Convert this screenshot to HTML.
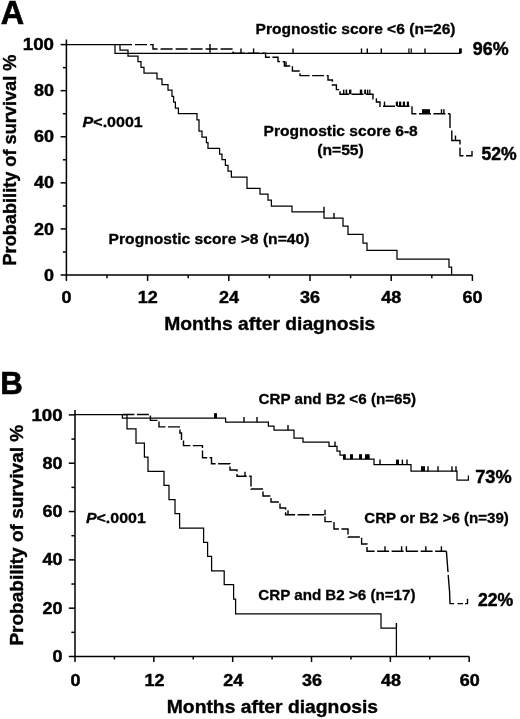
<!DOCTYPE html>
<html><head><meta charset="utf-8"><title>Survival curves</title>
<style>
html,body{margin:0;padding:0;background:#fff;}
body{width:520px;height:719px;overflow:hidden;font-family:"Liberation Sans",sans-serif;}
svg{display:block;position:absolute;left:0;top:0;will-change:transform;opacity:0.999;}
svg text{font-family:"Liberation Sans",sans-serif;font-weight:bold;fill:#000;}
</style></head><body>
<svg width="520" height="719" viewBox="0 0 520 719">
<rect width="520" height="719" fill="#fff"/>
<g stroke="#000" stroke-width="1.50" fill="none">
<path d="M66.40,39.60 L66.40,275.00 L472.40,275.00"/>
<line x1="60.60" y1="275.00" x2="66.40" y2="275.00"/>
<line x1="62.90" y1="251.96" x2="66.40" y2="251.96"/>
<line x1="60.60" y1="228.92" x2="66.40" y2="228.92"/>
<line x1="62.90" y1="205.88" x2="66.40" y2="205.88"/>
<line x1="60.60" y1="182.84" x2="66.40" y2="182.84"/>
<line x1="62.90" y1="159.80" x2="66.40" y2="159.80"/>
<line x1="60.60" y1="136.76" x2="66.40" y2="136.76"/>
<line x1="62.90" y1="113.72" x2="66.40" y2="113.72"/>
<line x1="60.60" y1="90.68" x2="66.40" y2="90.68"/>
<line x1="62.90" y1="67.64" x2="66.40" y2="67.64"/>
<line x1="60.60" y1="44.60" x2="66.40" y2="44.60"/>
<line x1="66.40" y1="275.00" x2="66.40" y2="280.90"/>
<line x1="107.00" y1="275.00" x2="107.00" y2="278.20"/>
<line x1="147.60" y1="275.00" x2="147.60" y2="280.90"/>
<line x1="188.20" y1="275.00" x2="188.20" y2="278.20"/>
<line x1="228.80" y1="275.00" x2="228.80" y2="280.90"/>
<line x1="269.40" y1="275.00" x2="269.40" y2="278.20"/>
<line x1="310.00" y1="275.00" x2="310.00" y2="280.90"/>
<line x1="350.60" y1="275.00" x2="350.60" y2="278.20"/>
<line x1="391.20" y1="275.00" x2="391.20" y2="280.90"/>
<line x1="431.80" y1="275.00" x2="431.80" y2="278.20"/>
<line x1="472.40" y1="275.00" x2="472.40" y2="280.90"/>
</g>
<path d="M66.40,44.60 L120.00,44.60 L120.00,50.20 L128.00,50.20 L128.00,56.00 L138.00,56.00 L138.00,61.50 L141.00,61.50 L141.00,67.30 L144.00,67.30 L144.00,73.20 L157.00,73.20 L157.00,78.80 L162.00,78.80 L162.00,84.50 L168.00,84.50 L168.00,90.00 L172.00,90.00 L172.00,96.30 L173.60,96.30 L173.60,102.00 L175.40,102.00 L175.40,108.00 L178.40,108.00 L178.40,113.70 L197.00,113.70 L197.00,119.80 L199.00,119.80 L199.00,131.00 L202.00,131.00 L202.00,137.00 L206.40,137.00 L206.40,142.50 L208.00,142.50 L208.00,148.40 L219.60,148.40 L219.60,154.00 L222.00,154.00 L222.00,159.70 L225.40,159.70 L225.40,165.30 L228.00,165.30 L228.00,171.00 L231.40,171.00 L231.40,177.00 L247.00,177.00 L247.00,188.40 L260.00,188.40 L260.00,194.00 L268.00,194.00 L268.00,200.00 L271.40,200.00 L271.40,206.00 L292.00,206.00 L292.00,211.80 L324.00,211.80 L324.00,218.00 L343.00,218.00 L343.00,226.00 L348.00,226.00 L348.00,234.40 L363.00,234.40 L363.00,243.00 L367.00,243.00 L367.00,250.40 L397.00,250.40 L397.00,259.00 L449.00,259.00 L449.00,267.00 L451.60,267.00 L451.60,275.00" stroke="#000" stroke-width="1.25" fill="none"/>
<line x1="324.00" y1="206.80" x2="324.00" y2="212.10" stroke="#000" stroke-width="1.40"/>
<line x1="334.00" y1="213.00" x2="334.00" y2="218.30" stroke="#000" stroke-width="1.40"/>
<path d="M115.00,44.60 L115.00,53.40 L460.50,53.40" stroke="#000" stroke-width="1.25" fill="none"/>
<line x1="241.00" y1="48.40" x2="241.00" y2="53.70" stroke="#000" stroke-width="1.40"/>
<line x1="253.60" y1="48.40" x2="253.60" y2="53.70" stroke="#000" stroke-width="1.40"/>
<line x1="293.00" y1="48.40" x2="293.00" y2="53.70" stroke="#000" stroke-width="1.40"/>
<line x1="361.50" y1="48.40" x2="361.50" y2="53.70" stroke="#000" stroke-width="1.40"/>
<line x1="367.30" y1="48.40" x2="367.30" y2="53.70" stroke="#000" stroke-width="1.40"/>
<line x1="381.30" y1="48.40" x2="381.30" y2="53.70" stroke="#000" stroke-width="1.40"/>
<rect x="408.30" y="48.40" width="1.20" height="5.00" fill="#000"/>
<rect x="410.60" y="48.40" width="1.20" height="5.00" fill="#000"/>
<line x1="425.00" y1="48.40" x2="425.00" y2="53.70" stroke="#000" stroke-width="1.40"/>
<rect x="459.00" y="48.40" width="2.80" height="5.00" fill="#000"/>
<path d="M120.00,44.60 L153.00,44.60 L153.00,49.00 L233.00,49.00 L233.00,53.20" stroke="#000" stroke-width="1.40" fill="none" stroke-dasharray="12 3"/>
<line x1="210.00" y1="44.00" x2="210.00" y2="52.80" stroke="#000" stroke-width="1.40"/>
<path d="M233.00,53.20 L265.60,53.20 L265.60,57.30 L278.00,57.30 L278.00,61.60 L284.40,61.60 L284.40,66.00 L292.40,66.00 L292.40,71.00 L300.00,71.00 L300.00,75.60 L328.00,75.60 L328.00,80.00 L332.40,80.00 L332.40,85.00 L336.40,85.00 L336.40,89.60 L340.00,89.60 L340.00,94.20 L373.00,94.20 L373.00,99.00 L376.40,99.00 L376.40,102.00 L380.00,102.00 L380.00,106.20 L412.00,106.20 L412.00,113.80 L450.00,113.80" stroke="#000" stroke-width="1.40" fill="none" stroke-dasharray="12 2.5"/>
<path d="M450,113.8 L450,128 M451.8,130.5 L451.8,140.5 L460,140.5 L460,144.5 M460,147.5 L460,155.8 L463.5,155.8 M466,155.8 L472,155.8 L472,151" stroke="#000" stroke-width="1.40" fill="none"/>
<line x1="286.00" y1="61.50" x2="286.00" y2="66.30" stroke="#000" stroke-width="1.40"/>
<rect x="343.00" y="89.60" width="1.40" height="4.60" fill="#000"/>
<rect x="345.60" y="89.60" width="1.60" height="4.60" fill="#000"/>
<rect x="349.00" y="89.60" width="2.40" height="4.60" fill="#000"/>
<rect x="359.80" y="89.60" width="2.40" height="4.60" fill="#000"/>
<rect x="364.20" y="89.60" width="1.80" height="4.60" fill="#000"/>
<rect x="366.90" y="89.60" width="1.40" height="4.60" fill="#000"/>
<rect x="369.20" y="89.60" width="1.20" height="4.60" fill="#000"/>
<rect x="383.80" y="101.60" width="1.40" height="4.60" fill="#000"/>
<rect x="395.80" y="101.60" width="2.20" height="4.60" fill="#000"/>
<rect x="399.00" y="101.60" width="2.20" height="4.60" fill="#000"/>
<rect x="402.80" y="101.60" width="2.20" height="4.60" fill="#000"/>
<rect x="406.80" y="101.60" width="2.20" height="4.60" fill="#000"/>
<rect x="422.00" y="109.20" width="8.00" height="4.60" fill="#000"/>
<rect x="440.80" y="109.20" width="1.40" height="4.60" fill="#000"/>
<rect x="443.20" y="109.20" width="1.40" height="4.60" fill="#000"/>
<line x1="455.50" y1="135.50" x2="455.50" y2="140.80" stroke="#000" stroke-width="1.40"/>
<g stroke="#000" stroke-width="1.50" fill="none">
<path d="M75.00,409.90 L75.00,656.50 L469.20,656.50"/>
<line x1="68.80" y1="656.50" x2="75.00" y2="656.50"/>
<line x1="71.40" y1="632.34" x2="75.00" y2="632.34"/>
<line x1="68.80" y1="608.18" x2="75.00" y2="608.18"/>
<line x1="71.40" y1="584.02" x2="75.00" y2="584.02"/>
<line x1="68.80" y1="559.86" x2="75.00" y2="559.86"/>
<line x1="71.40" y1="535.70" x2="75.00" y2="535.70"/>
<line x1="68.80" y1="511.54" x2="75.00" y2="511.54"/>
<line x1="71.40" y1="487.38" x2="75.00" y2="487.38"/>
<line x1="68.80" y1="463.22" x2="75.00" y2="463.22"/>
<line x1="71.40" y1="439.06" x2="75.00" y2="439.06"/>
<line x1="68.80" y1="414.90" x2="75.00" y2="414.90"/>
<line x1="75.00" y1="656.50" x2="75.00" y2="662.00"/>
<line x1="114.42" y1="656.50" x2="114.42" y2="659.50"/>
<line x1="153.84" y1="656.50" x2="153.84" y2="662.00"/>
<line x1="193.26" y1="656.50" x2="193.26" y2="659.50"/>
<line x1="232.68" y1="656.50" x2="232.68" y2="662.00"/>
<line x1="272.10" y1="656.50" x2="272.10" y2="659.50"/>
<line x1="311.52" y1="656.50" x2="311.52" y2="662.00"/>
<line x1="350.94" y1="656.50" x2="350.94" y2="659.50"/>
<line x1="390.36" y1="656.50" x2="390.36" y2="662.00"/>
<line x1="429.78" y1="656.50" x2="429.78" y2="659.50"/>
<line x1="469.20" y1="656.50" x2="469.20" y2="662.00"/>
</g>
<path d="M75.00,414.50 L127.00,414.50 L127.00,428.80 L136.00,428.80 L136.00,443.00 L144.40,443.00 L144.40,457.20 L148.00,457.20 L148.00,471.30 L164.00,471.30 L164.00,485.40 L169.00,485.40 L169.00,499.50 L175.00,499.50 L175.00,513.50 L179.60,513.50 L179.60,528.00 L203.60,528.00 L203.60,542.30 L207.60,542.30 L207.60,556.40 L211.60,556.40 L211.60,570.80 L224.20,570.80 L224.20,584.70 L233.60,584.70 L233.60,599.00 L235.60,599.00 L235.60,613.80 L381.00,613.80 L381.00,628.00 L396.40,628.00 L396.40,656.50" stroke="#000" stroke-width="1.25" fill="none"/>
<line x1="396.40" y1="623.00" x2="396.40" y2="628.30" stroke="#000" stroke-width="1.40"/>
<path d="M122.40,414.50 L122.40,418.20 L225.60,418.20 L225.60,422.00 L268.40,422.00 L268.40,426.00 L274.00,426.00 L274.00,430.00 L294.00,430.00 L294.00,438.00 L303.00,438.00 L303.00,442.00 L329.00,442.00 L329.00,446.40 L337.00,446.40 L337.00,451.00 L340.00,451.00 L340.00,455.00 L343.60,455.00 L343.60,459.20 L374.00,459.20 L374.00,464.60 L411.00,464.60 L411.00,471.20 L457.00,471.20 L457.00,480.00 L468.40,480.00 L468.40,475.50" stroke="#000" stroke-width="1.25" fill="none"/>
<rect x="214.00" y="413.20" width="3.00" height="5.00" fill="#000"/>
<line x1="244.00" y1="417.00" x2="244.00" y2="422.30" stroke="#000" stroke-width="1.40"/>
<line x1="257.00" y1="417.00" x2="257.00" y2="422.30" stroke="#000" stroke-width="1.40"/>
<line x1="288.00" y1="425.00" x2="288.00" y2="430.30" stroke="#000" stroke-width="1.40"/>
<line x1="335.00" y1="441.40" x2="335.00" y2="446.70" stroke="#000" stroke-width="1.40"/>
<rect x="343.60" y="454.20" width="2.20" height="5.00" fill="#000"/>
<rect x="350.00" y="454.20" width="3.00" height="5.00" fill="#000"/>
<rect x="359.00" y="454.20" width="3.00" height="5.00" fill="#000"/>
<rect x="365.00" y="454.20" width="4.60" height="5.00" fill="#000"/>
<line x1="380.00" y1="459.60" x2="380.00" y2="464.90" stroke="#000" stroke-width="1.40"/>
<rect x="396.00" y="459.60" width="3.00" height="5.00" fill="#000"/>
<line x1="402.40" y1="459.60" x2="402.40" y2="464.90" stroke="#000" stroke-width="1.40"/>
<line x1="407.00" y1="459.60" x2="407.00" y2="464.90" stroke="#000" stroke-width="1.40"/>
<rect x="421.00" y="466.20" width="4.00" height="5.00" fill="#000"/>
<line x1="428.00" y1="466.20" x2="428.00" y2="471.50" stroke="#000" stroke-width="1.40"/>
<line x1="438.00" y1="466.20" x2="438.00" y2="471.50" stroke="#000" stroke-width="1.40"/>
<line x1="452.00" y1="466.20" x2="452.00" y2="471.50" stroke="#000" stroke-width="1.40"/>
<line x1="456.00" y1="466.20" x2="456.00" y2="471.50" stroke="#000" stroke-width="1.40"/>
<path d="M122.40,414.50 L150.40,414.50 L150.40,420.40 L159.00,420.40 L159.00,426.90 L180.00,426.90 L180.00,433.00 L181.50,433.00 L181.50,439.20 L183.50,439.20 L183.50,445.60 L202.50,445.60 L202.50,457.70 L211.50,457.70 L211.50,463.80 L230.00,463.80 L230.00,470.00 L237.00,470.00 L237.00,476.20 L251.00,476.20 L251.00,489.00 L263.00,489.00 L263.00,496.00 L271.00,496.00 L271.00,502.00 L280.00,502.00 L280.00,508.00 L285.60,508.00 L285.60,514.80 L325.00,514.80 L325.00,521.60 L334.00,521.60 L334.00,529.00 L348.00,529.00 L348.00,537.00 L361.60,537.00 L361.60,544.00 L367.00,544.00 L367.00,551.30 L446.40,551.30" stroke="#000" stroke-width="1.40" fill="none" stroke-dasharray="12 2.5"/>
<path d="M446.4,551.3 L448,572 M448.2,575 L449.6,592 L450,603.6 L454,603.6 M457.5,603.6 L463,603.6 M465,603.6 L467.5,603.6 L467.5,598.8" stroke="#000" stroke-width="1.40" fill="none"/>
<line x1="245.00" y1="471.70" x2="245.00" y2="476.50" stroke="#000" stroke-width="1.40"/>
<line x1="288.00" y1="510.30" x2="288.00" y2="515.10" stroke="#000" stroke-width="1.40"/>
<line x1="325.00" y1="509.80" x2="325.00" y2="515.10" stroke="#000" stroke-width="1.40"/>
<line x1="385.00" y1="546.30" x2="385.00" y2="551.60" stroke="#000" stroke-width="1.40"/>
<line x1="401.60" y1="546.30" x2="401.60" y2="551.60" stroke="#000" stroke-width="1.40"/>
<line x1="406.40" y1="546.30" x2="406.40" y2="551.60" stroke="#000" stroke-width="1.40"/>
<line x1="425.80" y1="546.30" x2="425.80" y2="551.60" stroke="#000" stroke-width="1.40"/>
<line x1="441.40" y1="546.30" x2="441.40" y2="551.60" stroke="#000" stroke-width="1.40"/>
<text x="0.80" y="23.90" font-size="33.00" textLength="23.40" lengthAdjust="spacingAndGlyphs"  stroke="#000" stroke-width="0.60">A</text>
<text x="0.25" y="394.00" font-size="32.00" textLength="22.60" lengthAdjust="spacingAndGlyphs"  stroke="#000" stroke-width="0.60">B</text>
<text x="22.80" y="50.20" font-size="17.30" textLength="31.20" lengthAdjust="spacingAndGlyphs"  stroke="#000" stroke-width="0.45">100</text>
<text x="34.00" y="96.28" font-size="17.30" textLength="20.00" lengthAdjust="spacingAndGlyphs"  stroke="#000" stroke-width="0.45">80</text>
<text x="34.00" y="142.36" font-size="17.30" textLength="20.00" lengthAdjust="spacingAndGlyphs"  stroke="#000" stroke-width="0.45">60</text>
<text x="34.00" y="188.44" font-size="17.30" textLength="20.00" lengthAdjust="spacingAndGlyphs"  stroke="#000" stroke-width="0.45">40</text>
<text x="34.00" y="234.52" font-size="17.30" textLength="20.00" lengthAdjust="spacingAndGlyphs"  stroke="#000" stroke-width="0.45">20</text>
<text x="44.00" y="280.60" font-size="17.30" textLength="10.00" lengthAdjust="spacingAndGlyphs"  stroke="#000" stroke-width="0.45">0</text>
<text x="31.40" y="420.50" font-size="17.30" textLength="31.20" lengthAdjust="spacingAndGlyphs"  stroke="#000" stroke-width="0.45">100</text>
<text x="42.60" y="468.82" font-size="17.30" textLength="20.00" lengthAdjust="spacingAndGlyphs"  stroke="#000" stroke-width="0.45">80</text>
<text x="42.60" y="517.14" font-size="17.30" textLength="20.00" lengthAdjust="spacingAndGlyphs"  stroke="#000" stroke-width="0.45">60</text>
<text x="42.60" y="565.46" font-size="17.30" textLength="20.00" lengthAdjust="spacingAndGlyphs"  stroke="#000" stroke-width="0.45">40</text>
<text x="42.60" y="613.78" font-size="17.30" textLength="20.00" lengthAdjust="spacingAndGlyphs"  stroke="#000" stroke-width="0.45">20</text>
<text x="52.60" y="662.10" font-size="17.30" textLength="10.00" lengthAdjust="spacingAndGlyphs"  stroke="#000" stroke-width="0.45">0</text>
<text x="61.50" y="303.00" font-size="17.30" textLength="10.00" lengthAdjust="spacingAndGlyphs"  stroke="#000" stroke-width="0.45">0</text>
<text x="137.70" y="303.00" font-size="17.30" textLength="20.00" lengthAdjust="spacingAndGlyphs"  stroke="#000" stroke-width="0.45">12</text>
<text x="218.90" y="303.00" font-size="17.30" textLength="20.00" lengthAdjust="spacingAndGlyphs"  stroke="#000" stroke-width="0.45">24</text>
<text x="300.10" y="303.00" font-size="17.30" textLength="20.00" lengthAdjust="spacingAndGlyphs"  stroke="#000" stroke-width="0.45">36</text>
<text x="381.30" y="303.00" font-size="17.30" textLength="20.00" lengthAdjust="spacingAndGlyphs"  stroke="#000" stroke-width="0.45">48</text>
<text x="462.50" y="303.00" font-size="17.30" textLength="20.00" lengthAdjust="spacingAndGlyphs"  stroke="#000" stroke-width="0.45">60</text>
<text x="70.60" y="685.60" font-size="17.30" textLength="10.00" lengthAdjust="spacingAndGlyphs"  stroke="#000" stroke-width="0.45">0</text>
<text x="144.44" y="685.60" font-size="17.30" textLength="20.00" lengthAdjust="spacingAndGlyphs"  stroke="#000" stroke-width="0.45">12</text>
<text x="223.28" y="685.60" font-size="17.30" textLength="20.00" lengthAdjust="spacingAndGlyphs"  stroke="#000" stroke-width="0.45">24</text>
<text x="302.12" y="685.60" font-size="17.30" textLength="20.00" lengthAdjust="spacingAndGlyphs"  stroke="#000" stroke-width="0.45">36</text>
<text x="380.96" y="685.60" font-size="17.30" textLength="20.00" lengthAdjust="spacingAndGlyphs"  stroke="#000" stroke-width="0.45">48</text>
<text x="459.80" y="685.60" font-size="17.30" textLength="20.00" lengthAdjust="spacingAndGlyphs"  stroke="#000" stroke-width="0.45">60</text>
<text x="164.20" y="329.80" font-size="17.60" textLength="211.10" lengthAdjust="spacingAndGlyphs"  stroke="#000" stroke-width="0.35">Months after diagnosis</text>
<text x="166.80" y="713.40" font-size="17.60" textLength="211.20" lengthAdjust="spacingAndGlyphs"  stroke="#000" stroke-width="0.35">Months after diagnosis</text>
<text x="255.60" y="33.60" font-size="15.20" textLength="199.90" lengthAdjust="spacingAndGlyphs"  stroke="#000" stroke-width="0.30">Prognostic score &lt;6 (n=26)</text>
<text x="472.80" y="55.00" font-size="17.80" textLength="35.80" lengthAdjust="spacingAndGlyphs"  stroke="#000" stroke-width="0.45">96%</text>
<text x="263.60" y="136.40" font-size="15.20" textLength="154.20" lengthAdjust="spacingAndGlyphs"  stroke="#000" stroke-width="0.30">Prognostic score 6-8</text>
<text x="317.20" y="155.20" font-size="15.20" textLength="46.60" lengthAdjust="spacingAndGlyphs"  stroke="#000" stroke-width="0.30">(n=55)</text>
<text x="481.40" y="159.50" font-size="17.80" textLength="35.20" lengthAdjust="spacingAndGlyphs"  stroke="#000" stroke-width="0.45">52%</text>
<text x="108.60" y="244.20" font-size="15.20" textLength="200.80" lengthAdjust="spacingAndGlyphs"  stroke="#000" stroke-width="0.30">Prognostic score &gt;8 (n=40)</text>
<text x="82.60" y="126.80" font-size="15.20" textLength="60.20" lengthAdjust="spacingAndGlyphs"  stroke="#000" stroke-width="0.30"><tspan font-style="italic">P</tspan><.0001</text>
<text x="258.60" y="403.50" font-size="15.20" textLength="157.40" lengthAdjust="spacingAndGlyphs"  stroke="#000" stroke-width="0.30">CRP and B2 &lt;6 (n=65)</text>
<text x="475.20" y="482.60" font-size="17.80" textLength="36.40" lengthAdjust="spacingAndGlyphs"  stroke="#000" stroke-width="0.45">73%</text>
<text x="364.30" y="522.90" font-size="15.20" textLength="144.50" lengthAdjust="spacingAndGlyphs"  stroke="#000" stroke-width="0.30">CRP or B2 &gt;6 (n=39)</text>
<text x="477.90" y="606.10" font-size="17.80" textLength="35.30" lengthAdjust="spacingAndGlyphs"  stroke="#000" stroke-width="0.45">22%</text>
<text x="258.30" y="599.60" font-size="15.20" textLength="157.20" lengthAdjust="spacingAndGlyphs"  stroke="#000" stroke-width="0.30">CRP and B2 &gt;6 (n=17)</text>
<text x="85.90" y="523.00" font-size="15.20" textLength="59.90" lengthAdjust="spacingAndGlyphs"  stroke="#000" stroke-width="0.30"><tspan font-style="italic">P</tspan><.0001</text>
<g transform="translate(16.40,265.50) rotate(-90) scale(1,1.100)"><text x="0" y="0" font-size="17.00" textLength="210.90" lengthAdjust="spacingAndGlyphs" stroke="#000" stroke-width="0.35">Probability of survival %</text></g>
<g transform="translate(23.00,645.60) rotate(-90) scale(1,1.090)"><text x="0" y="0" font-size="17.00" textLength="220.80" lengthAdjust="spacingAndGlyphs" stroke="#000" stroke-width="0.35">Probability of survival %</text></g>
</svg>
</body></html>
